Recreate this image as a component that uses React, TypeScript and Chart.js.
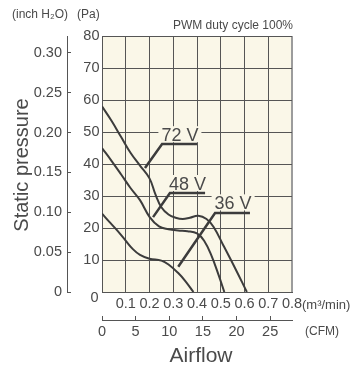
import { useEffect, useRef } from "react";
import { Chart, registerables } from "chart.js";

Chart.register(...registerables);

// Unit conversions for the secondary axes
const PA_PER_INCH_H2O = 249.089;
const CFM_PER_M3_MIN = 35.3147;

// Axis ranges
const FLOW_MAX = 0.8; // m³/min
const PRESSURE_MAX = 80; // Pa

// P-Q curves (airflow in m³/min, static pressure in Pa)
const flow72 = [0, 0.04, 0.08, 0.12, 0.16, 0.2, 0.225, 0.25, 0.28, 0.31, 0.34, 0.37, 0.405, 0.44, 0.47, 0.51, 0.56, 0.61];
const pressure72 = [58, 53.5, 48.5, 43.5, 39.5, 35.5, 30.5, 26.5, 24.2, 23.2, 22.8, 23.2, 23.8, 22.8, 20.3, 14.7, 7.5, 0];

const flow48 = [0, 0.04, 0.08, 0.12, 0.16, 0.2, 0.24, 0.28, 0.32, 0.36, 0.4, 0.43, 0.46, 0.49, 0.515];
const pressure48 = [45, 41, 36.8, 32.5, 28.7, 23.5, 20.5, 19.6, 19.2, 19, 18.3, 16, 11.5, 5.5, 0];

const flow36 = [0, 0.03, 0.062, 0.097, 0.13, 0.16, 0.2, 0.25, 0.28, 0.32, 0.35, 0.385];
const pressure36 = [24.5, 22, 19.4, 16.3, 13.4, 11.6, 10.4, 9.8, 8.6, 6, 3.5, 0];

// Voltage call-outs: label centre, underline (flow range at a pressure), leader tip
const noteTexts = ["72 V", "48 V", "36 V"];
const noteCenters = [[0.328, 49], [0.36, 33.75], [0.552, 27.7]];
const noteUnderlines = [[0.253, 0.4, 46.25], [0.286, 0.434, 30.9], [0.476, 0.623, 24.7]];
const noteTips = [[0.181, 38.75], [0.215, 23.4], [0.321, 7.9]];

const SANS = "'Liberation Sans', Arial, Helvetica, sans-serif";
const INK = "#3c3c3c";
const TEXT = "#4a4a4a";
const GRID = "#555555";
const PLOT_BG = "#faf7e8";

const toPoints = (xs: number[], ys: number[]) => xs.map((x, i) => ({ x, y: ys[i] }));

const plotBackground = {
  id: "plotBackground",
  beforeDraw(chart: any) {
    const { ctx, chartArea: a } = chart;
    ctx.save();
    ctx.fillStyle = PLOT_BG;
    ctx.fillRect(a.left, a.top, a.right - a.left, a.bottom - a.top);
    ctx.restore();
  },
};

const voltageNotes = {
  id: "voltageNotes",
  afterDatasetsDraw(chart: any) {
    const { ctx } = chart;
    const xs = chart.scales.x;
    const ys = chart.scales.y;
    ctx.save();
    ctx.font = `18px ${SANS}`;
    ctx.textAlign = "center";
    ctx.textBaseline = "middle";
    noteTexts.forEach((text, i) => {
      const cx = xs.getPixelForValue(noteCenters[i][0]);
      const cy = ys.getPixelForValue(noteCenters[i][1]);
      const w = ctx.measureText(text).width;
      ctx.fillStyle = PLOT_BG;
      ctx.fillRect(cx - w / 2 - 3, cy - 9, w + 6, 16);
      ctx.fillStyle = TEXT;
      ctx.fillText(text, cx, cy + 1);

      const [u0, u1, up] = noteUnderlines[i];
      const uy = ys.getPixelForValue(up);
      ctx.strokeStyle = INK;
      ctx.lineWidth = 2.5;
      ctx.lineCap = "butt";
      ctx.lineJoin = "miter";
      ctx.beginPath();
      ctx.moveTo(xs.getPixelForValue(u1), uy);
      ctx.lineTo(xs.getPixelForValue(u0), uy);
      ctx.lineTo(xs.getPixelForValue(noteTips[i][0]), ys.getPixelForValue(noteTips[i][1]));
      ctx.stroke();
    });
    ctx.restore();
  },
};

const axisTitles = {
  id: "axisTitles",
  afterDraw(chart: any) {
    const { ctx, chartArea: a } = chart;
    const xs = chart.scales.x;
    const ys = chart.scales.y;
    const cfm = chart.scales.cfm;
    ctx.save();
    ctx.fillStyle = TEXT;
    ctx.textBaseline = "middle";

    // shared origin label
    ctx.font = `14.5px ${SANS}`;
    ctx.textAlign = "right";
    ctx.fillText("0", a.left - 3.5, ys.getPixelForValue(0) + 6);

    ctx.font = `12px ${SANS}`;
    ctx.textAlign = "left";
    ctx.fillText("(inch H₂O)", 12, 15);
    ctx.fillText("(Pa)", 77, 15);

    ctx.textAlign = "right";
    ctx.fillText("PWM duty cycle 100%", a.right + 1, 26);

    ctx.textAlign = "left";
    ctx.font = `13px ${SANS}`;
    ctx.fillText("(m³/min)", a.right + 10, xs.top + 13);
    ctx.font = `12px ${SANS}`;
    ctx.fillText("(CFM)", a.right + 13, cfm.top + 12);

    ctx.font = `21px ${SANS}`;
    ctx.textAlign = "center";
    ctx.fillText("Airflow", (a.left + a.right) / 2 + 4, 356);

    ctx.translate(22, 165);
    ctx.rotate(-Math.PI / 2);
    ctx.font = `20px ${SANS}`;
    ctx.fillText("Static pressure", 0, 0);
    ctx.restore();
  },
};

export default function App() {
  const canvasRef = useRef<HTMLCanvasElement | null>(null);

  useEffect(() => {
    document.body.style.margin = "0";
    const canvas = canvasRef.current;
    if (!canvas) return;

    const curve = (label: string, xs: number[], ys: number[]) => ({
      label,
      data: toPoints(xs, ys),
      xAxisID: "x",
      yAxisID: "y",
      borderColor: INK,
      borderWidth: 2,
      pointRadius: 0,
      tension: 0.4,
      fill: false,
    });

    const tickFont = { family: SANS, size: 14.5 };

    const chart = new Chart(canvas, {
      type: "line",
      data: {
        datasets: [
          curve("72 V", flow72, pressure72),
          curve("48 V", flow48, pressure48),
          curve("36 V", flow36, pressure36),
        ],
      },
      options: {
        responsive: false,
        animation: false,
        devicePixelRatio: 1,
        layout: { padding: { left: 0, right: 64, top: 36, bottom: 20 } },
        plugins: { legend: { display: false }, tooltip: { enabled: false } },
        scales: {
          x: {
            type: "linear",
            position: "bottom",
            weight: 0,
            min: 0,
            max: FLOW_MAX,
            ticks: {
              stepSize: 0.1,
              padding: 3,
              color: TEXT,
              font: tickFont,
              maxRotation: 0,
              autoSkip: false,
              callback: (v: any) => (Number(v) === 0 ? "" : Number(v).toFixed(1)),
            },
            grid: {
              drawTicks: false,
              color: (c: any) => (c.tick && c.tick.value > FLOW_MAX - 0.01 ? "#9c9c9c" : GRID),
              lineWidth: (c: any) => (c.tick && c.tick.value > FLOW_MAX - 0.01 ? 2 : 1),
            },
            border: { color: GRID, width: 1 },
            afterFit: (s: any) => {
              s.height = 28;
            },
          },
          cfm: {
            type: "linear",
            position: "bottom",
            weight: 1,
            min: 0,
            max: FLOW_MAX * CFM_PER_M3_MIN,
            ticks: {
              stepSize: 5,
              includeBounds: false,
              padding: 7,
              color: TEXT,
              font: tickFont,
              maxRotation: 0,
              autoSkip: false,
            },
            grid: { drawOnChartArea: false, tickLength: -4, color: GRID },
            border: { color: GRID, width: 1 },
            afterFit: (s: any) => {
              s.height = 26;
            },
          },
          y: {
            type: "linear",
            position: "left",
            weight: 0,
            min: 0,
            max: PRESSURE_MAX,
            ticks: {
              stepSize: 10,
              padding: 2.5,
              color: TEXT,
              font: tickFont,
              callback: (v: any) => (Number(v) === 0 ? "" : String(v)),
            },
            grid: { drawTicks: false, color: GRID, lineWidth: 1 },
            border: { color: GRID, width: 1 },
            afterFit: (s: any) => {
              s.width = 35;
            },
          },
          inch: {
            type: "linear",
            position: "left",
            weight: 1,
            min: 0,
            max: PRESSURE_MAX / PA_PER_INCH_H2O,
            ticks: {
              stepSize: 0.05,
              includeBounds: false,
              padding: 9,
              color: TEXT,
              font: tickFont,
              callback: (v: any) => (Number(v) === 0 ? "0" : Number(v).toFixed(2)),
            },
            grid: { drawOnChartArea: false, tickLength: -4, color: GRID },
            border: { color: GRID, width: 1 },
            afterFit: (s: any) => {
              s.width = 67;
            },
          },
        },
      },
      plugins: [plotBackground, voltageNotes, axisTitles],
    } as any);

    return () => chart.destroy();
  }, []);

  return (
    <div style={{ position: "fixed", left: 0, top: 0, width: 356, height: 366, background: "#fff" }}>
      <canvas ref={canvasRef} width={356} height={366} style={{ display: "block" }} />
    </div>
  );
}
